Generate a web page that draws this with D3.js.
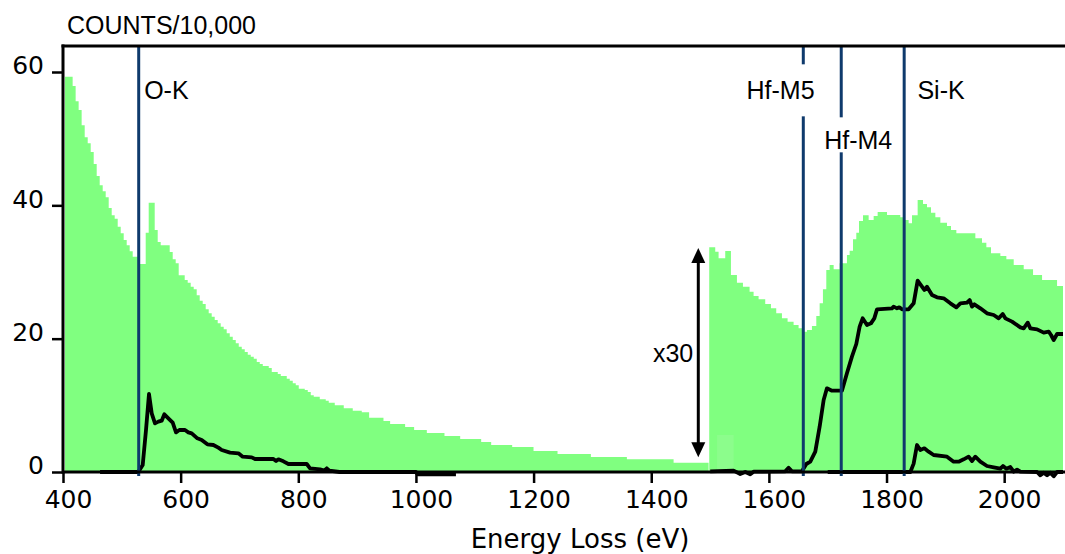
<!DOCTYPE html>
<html lang="en">
<head>
<meta charset="UTF-8">
<title>EELS spectrum</title>
<script src="https://cdn.jsdelivr.net/npm/d3@7/dist/d3.min.js"></script>
<style>
body { margin: 0; background: #fff; }
svg { display: block; }
.tick text { font: 25px "DejaVu Sans", sans-serif; fill: #000; }
.label { font: 25px "Liberation Sans", Arial, sans-serif; fill: #000; }
</style>
</head>
<body>
<svg width="1065" height="554"></svg>
<script>
// low-loss part of the spectrum, [start energy eV, counts/10,000] per step
var lowSteps = [[403.4,59.3],[416.4,57.9],[421.5,55.6],[426.6,54.3],[431.7,52.0],[436.9,50.2],[442.0,49.3],
  [447.1,48.0],[452.2,46.2],[457.3,44.4],[462.4,43.0],[467.5,42.1],[472.6,41.2],[477.7,39.6],[482.8,38.5],
  [487.9,38.0],[493.0,36.8],[498.1,35.8],[503.2,34.8],[508.3,34.0],[513.4,33.1],[518.5,32.3],[528.7,31.2],
  [540.6,35.9],[545.7,40.4],[555.9,36.3],[561.0,34.5],[566.1,34.0],[581.4,33.0],[586.5,31.9],[591.6,31.3],
  [596.7,29.5],[606.9,28.8],[612.0,28.4],[617.1,27.8],[622.2,27.4],[627.3,26.5],[632.4,25.7],[637.5,25.2],
  [642.6,24.4],[647.7,23.8],[652.8,23.3],[657.9,22.8],[663.0,22.3],[668.1,21.8],[673.2,21.4],[678.3,20.8],
  [683.5,20.3],[688.6,19.8],[693.7,19.3],[698.8,18.8],[703.9,18.4],[709.0,18.0],[714.1,17.6],[719.2,17.3],
  [724.3,17.0],[729.4,16.5],[734.5,16.2],[739.6,15.9],[749.8,15.6],[754.9,15.0],[765.1,14.7],[770.2,14.4],
  [780.4,14.0],[785.5,13.7],[790.6,13.3],[795.7,13.0],[800.8,12.5],[811.0,12.3],[816.1,12.0],[821.2,11.5],
  [826.3,11.3],[836.5,10.9],[846.7,10.7],[851.8,10.4],[862.0,10.0],[877.3,9.55],[892.6,9.2],[907.9,8.95],
  [920.4,8.15],[944.8,7.65],[956.1,7.2],[981.6,6.75],[996.9,6.3],[1018.5,5.85],[1048.5,5.4],[1075.2,4.95],
  [1110.9,4.5],[1127.9,4.05],[1163.6,3.75],[1199.9,3.15],[1240.7,2.7],[1297.4,2.25],[1358.6,1.9],[1438.0,1.4],
  [1497.5,1.4]];

// high-loss part (scaled x30)
var highSteps = [[1498.6,33.7],[1508.8,33.05],[1514.5,32.05],[1525.8,33.15],[1535.5,29.55],[1545.7,28.4],
  [1555.9,27.8],[1567.2,27.05],[1574.0,26.4],[1582.5,25.9],[1593.8,25.2],[1603.5,24.55],[1612.5,23.8],
  [1622.2,23.05],[1631.8,22.55],[1642.0,22.05],[1650.5,21.55],[1659.0,21.05],[1664.7,21.3],[1673.2,21.9],
  [1680.6,23.4],[1686.3,25.3],[1691.9,27.4],[1697.6,30.3],[1703.3,31.05],[1710.1,30.4],[1720.3,31.3],
  [1732.7,32.55],[1737.3,33.2],[1743.0,34.9],[1748.6,35.9],[1753.2,37.65],[1760.0,38.5],[1769.6,37.8],
  [1778.1,38.4],[1784.9,39.0],[1800.8,38.55],[1823.4,38.2],[1830.2,37.8],[1837.6,37.3],[1843.3,38.5],
  [1852.9,40.8],[1862.0,40.2],[1868.8,39.7],[1875.6,38.9],[1883.0,38.2],[1891.5,37.4],[1902.8,36.9],
  [1909.6,36.3],[1918.7,35.8],[1951.0,35.05],[1962.3,34.4],[1969.7,33.7],[1977.6,32.8],[1993.5,32.4],
  [2003.7,31.9],[2016.2,31.05],[2033.2,30.4],[2049.1,29.55],[2064.4,28.8],[2089.9,27.9],[2104,27.9]];

// unscaled remainder just past the break
var unscaledSteps = [[1512,5.55],[1540,5.55]];

// background-subtracted edges
var oEdge = [[463,0],[528,0],[535.5,1.05],[541.1,6.3],[546.2,11.7],[550.8,8.8],[556.4,7.3],[562.1,7.55],
  [567.8,7.7],[572.3,8.65],[579.1,8.05],[586.5,7.4],[592.1,5.95],[597.8,6.3],[607.4,6.3],[613.1,5.95],
  [618.8,5.8],[628.4,5.05],[635.8,4.8],[645.4,4.15],[655.6,4.05],[664.1,3.65],[669.8,3.3],[684.0,2.9],
  [698.2,2.8],[705.5,2.3],[720.8,2.2],[726.5,1.95],[757.7,1.95],[762.2,1.65],[766.2,1.9],[774.7,1.6],
  [783.2,1.2],[814.4,1.2],[820.0,0.55],[837.0,0.4],[843.8,0.2],[848.4,0.55],[852.9,0.2],[870,0],
  [1000,0],[1003,-0.35],[1068,-0.35]];

var hfSiEdge = [[1500.3,0.1],[1540,0.2],[1551.3,-0.3],[1559.8,0],[1568.3,-0.35],[1574,0.05],[1627.9,0.1],
  [1633.5,0.65],[1639.2,0.1],[1656.2,0.1],[1663.6,1.2],[1670.4,1.55],[1678.9,3.05],[1686.3,6.8],
  [1693.1,10.8],[1698.7,12.55],[1707.2,12.2],[1724.2,12.2],[1732.7,14.8],[1741.2,17.3],[1748.6,19.2],
  [1754.3,21.8],[1759.4,23.05],[1766.8,22.05],[1773.5,22.3],[1779.2,23.05],[1783.8,24.4],[1809.3,24.55],
  [1812.1,24.8],[1817.8,24.55],[1821.7,24.7],[1826.3,24.4],[1837.6,24.4],[1846.1,25.3],[1852.9,28.7],
  [1860.3,27.8],[1864.3,27.3],[1868.8,27.8],[1877.3,26.55],[1885.8,26.2],[1897.1,26.05],[1908.5,25.3],
  [1918.7,24.7],[1925.5,25.3],[1936.8,25.4],[1941.3,25.8],[1945.3,24.8],[1949.3,25.15],[1959.5,24.55],
  [1970.8,23.8],[1982.2,23.55],[1990.7,23.05],[1997.5,23.7],[2002.0,23.05],[2013.4,22.55],[2027.5,21.7],
  [2033.2,21.55],[2040.0,22.4],[2044.5,21.55],[2055.9,21.4],[2067.2,20.9],[2075.7,21.05],[2079.7,20.55],
  [2084.2,19.8],[2089.9,20.7],[2104,20.7]];

var siEdge = [[1700,0],[1840.5,0],[1846.1,1.25],[1851.8,4.05],[1857.4,3.3],[1864.3,3.55],[1871.6,3.05],
  [1880.1,2.55],[1902.8,2.3],[1914.1,1.55],[1922.6,1.55],[1931.1,1.9],[1939.6,2.3],[1945.3,1.65],
  [1950.9,2.3],[1959.5,1.55],[1970.8,0.9],[1982.2,0.7],[1993.5,0.5],[1998.0,0.9],[2003.7,0.5],
  [2010.5,0.75],[2016.2,0.05],[2021.9,0.35],[2027.5,0.05],[2055.9,0],[2061.5,-0.5],[2067.2,-0.1],
  [2072.9,-0.5],[2078.5,-0.1],[2084.2,-0.65],[2089.9,0],[2104,0]];

// edge markers
var edgeNames = ["O-K", "Hf-M5", "Hf-M4", "Si-K"];
var edgeEnergy = [528.7, 1658.5, 1723, 1830];
var labelEnergy = [538, 1562, 1694, 1852.5];
var labelLevel = [55.9, 55.9, 48.4, 55.9];

var xTicks = [400, 600, 800, 1000, 1200, 1400, 1600, 1800, 2000];
var yTicks = [0, 20, 40, 60];
var scaleNote = {text: "x30", energy: 1480, top: 33.6, bottom: 2.2};

var svg = d3.select("svg");
var x = d3.scaleLinear().domain([400, 2100]).range([63, 1063]);
var y = d3.scaleLinear().domain([0, 63.9]).range([472, 46]);

svg.append("clipPath").attr("id", "plot")
  .append("rect").attr("x", 63).attr("y", 40).attr("width", 1000).attr("height", 445);

var plot = svg.append("g").attr("clip-path", "url(#plot)");

var area = d3.area()
  .x(function(d) { return x(d[0]); })
  .y0(y(0))
  .y1(function(d) { return y(d[1]); })
  .curve(d3.curveStepAfter);

plot.append("path").datum(lowSteps).attr("d", area).attr("fill", "#80ff80");
plot.append("path").datum(highSteps).attr("d", area).attr("fill", "#80ff80");
plot.append("path").datum(unscaledSteps).attr("d", area).attr("fill", "#8cfd8c");

var line = d3.line()
  .x(function(d) { return x(d[0]); })
  .y(function(d) { return y(d[1]); });

[oEdge, siEdge, hfSiEdge].forEach(function(s) {
  plot.append("path").datum(s).attr("d", line)
    .attr("fill", "none").attr("stroke", "#000")
    .attr("stroke-width", 3.8).attr("stroke-linejoin", "round");
});

// vertical edge lines
svg.selectAll(".edge").data(edgeEnergy).enter().append("line")
  .attr("class", "edge")
  .attr("x1", function(d) { return x(d); }).attr("x2", function(d) { return x(d); })
  .attr("y1", y.range()[1]).attr("y2", y(0) + 4)
  .attr("stroke", "#0f3a6c").attr("stroke-width", 3);

// edge labels, the two Hf labels knock out the line behind them
var pads = [null, [35, 17], [32, 3], null];
edgeNames.forEach(function(name, i) {
  var tx = x(labelEnergy[i]), ty = y(labelLevel[i]);
  var t = svg.append("text").attr("class", "label")
    .attr("x", tx).attr("y", ty).text(name);
  if (pads[i]) {
    var bb = t.node().getBBox();
    svg.insert("rect", function() { return t.node(); })
      .attr("x", bb.x - 2).attr("width", bb.width + 4)
      .attr("y", ty - pads[i][0]).attr("height", pads[i][0] + pads[i][1])
      .attr("fill", "#fff");
  }
});

// axes
var xAxis = d3.axisBottom(x).tickValues(xTicks).tickFormat(d3.format("d"))
  .tickSize(11).tickSizeOuter(0).tickPadding(7);
var gx = svg.append("g").attr("transform", "translate(0," + y(0) + ")").call(xAxis);
gx.select(".domain").remove();
gx.selectAll(".tick line").attr("stroke", "#000").attr("stroke-width", 2.5);
gx.selectAll(".tick text").attr("dx", 5);

var yAxis = d3.axisLeft(y).tickValues(yTicks).tickSize(11).tickSizeOuter(0).tickPadding(8);
var gy = svg.append("g").attr("transform", "translate(" + x(400) + ",0)").call(yAxis);
gy.select(".domain").remove();
gy.selectAll(".tick line").attr("stroke", "#000").attr("stroke-width", 2.5);
gy.selectAll(".tick text").attr("dy", "0.07em");

svg.append("line").attr("x1", x(400)).attr("x2", 1065).attr("y1", y(0)).attr("y2", y(0))
  .attr("stroke", "#000").attr("stroke-width", 3);
svg.append("line").attr("x1", x(400)).attr("x2", x(400)).attr("y1", y.range()[1] - 1.5).attr("y2", y(0) + 1.5)
  .attr("stroke", "#000").attr("stroke-width", 3);
svg.append("line").attr("x1", x(400) - 1.5).attr("x2", 1065).attr("y1", y.range()[1]).attr("y2", y.range()[1])
  .attr("stroke", "#000").attr("stroke-width", 3);

svg.append("text").attr("class", "label").attr("x", 67).attr("y", 34)
  .text("COUNTS/10,000");

svg.append("text").attr("x", 580).attr("y", 548).attr("text-anchor", "middle")
  .style("font", "26px 'DejaVu Sans', sans-serif").text("Energy Loss (eV)");

// x30 arrow
var ax = x(scaleNote.energy), at = y(scaleNote.top), ab = y(scaleNote.bottom);
svg.append("line").attr("x1", ax).attr("x2", ax).attr("y1", at + 10).attr("y2", ab - 10)
  .attr("stroke", "#000").attr("stroke-width", 3);
svg.append("path").attr("d", "M" + ax + "," + at + "l-7,15h14z").attr("fill", "#000");
svg.append("path").attr("d", "M" + ax + "," + ab + "l-7,-15h14z").attr("fill", "#000");
svg.append("text").attr("class", "label").attr("x", ax - 5).attr("y", (at + ab) / 2 + 9)
  .attr("text-anchor", "end").text(scaleNote.text);
</script>
</body>
</html>
